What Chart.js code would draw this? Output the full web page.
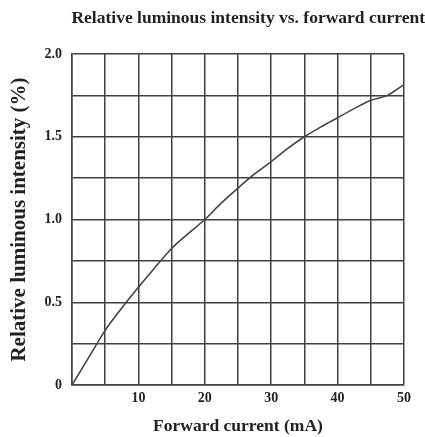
<!DOCTYPE html>
<html>
<head>
<meta charset="utf-8">
<script src="https://cdn.jsdelivr.net/npm/chart.js@4.4.0/dist/chart.umd.min.js"></script>
<style>
  html, body { margin: 0; padding: 0; background: #fff; }
  #wrap { width: 425px; height: 437px; }
</style>
</head>
<body>
<div id="wrap"><canvas id="myChart" width="425" height="437"></canvas></div>
<script>
// Values
const forwardCurrent = [0, 2.5, 5, 7.5, 10, 12.5, 15, 17.5, 20, 22.5, 25, 27.5, 30, 32.5, 35, 37.5, 40, 42.5, 45, 47.5, 50];
const relIntensity = [0, 0.165, 0.33, 0.465, 0.59, 0.71, 0.825, 0.915, 1.0, 1.1, 1.19, 1.275, 1.35, 1.43, 1.5, 1.56, 1.615, 1.67, 1.72, 1.75, 1.815];

const serif = 'Liberation Serif';
const ink = '#404040';

const chartConfig = {
  type: 'line',
  data: {
    datasets: [{
      data: forwardCurrent.map((x, i) => ({ x: x, y: relIntensity[i] })),
      borderColor: '#444',
      borderWidth: 1.6,
      pointRadius: 0,
      cubicInterpolationMode: 'monotone',
      fill: false
    }]
  },
  options: {
    responsive: false,
    animation: false,
    layout: { padding: 0 },
    scales: {
      x: {
        type: 'linear',
        min: 0,
        max: 50,
        ticks: {
          stepSize: 5,
          padding: 5,
          color: '#222',
          font: { family: serif, size: 14, weight: 'bold' },
          callback: v => (v % 10 === 0 && v !== 0) ? v : ''
        },
        grid: { color: ink, lineWidth: 1.5, drawTicks: false },
        border: { color: ink, width: 1.5 },
        title: {
          display: true,
          text: 'Forward current (mA)',
          color: '#222',
          font: { family: serif, size: 17.5, weight: 'bold' },
          padding: { top: 6, bottom: 0 }
        },
        afterFit: s => { s.height = 52; }
      },
      y: {
        min: 0,
        max: 2,
        ticks: {
          stepSize: 0.25,
          padding: 10,
          color: '#222',
          font: { family: serif, size: 14, weight: 'bold' },
          callback: v => v === 0 ? '0' : (v % 0.5 === 0 ? v.toFixed(1) : '')
        },
        grid: { color: ink, lineWidth: 1.5, drawTicks: false },
        border: { color: ink, width: 1.5 },
        title: {
          display: true,
          text: 'Relative luminous intensity (%)',
          color: '#222',
          font: { family: serif, size: 21, weight: 'bold' },
          padding: { top: 7, bottom: 0 }
        },
        afterFit: s => { s.width = 72; }
      },
      // empty right-hand strip so the plot ends where the reference does
      yRight: {
        position: 'right',
        min: 0,
        max: 2,
        grid: { display: false, drawTicks: false },
        border: { display: false },
        ticks: { display: false },
        afterFit: s => { s.width = 21; }
      }
    },
    plugins: {
      legend: { display: false },
      tooltip: { enabled: false },
      title: {
        display: true,
        text: 'Relative luminous intensity vs. forward current',
        color: '#222',
        align: 'end',
        font: { family: serif, size: 17.5, weight: 'bold' },
        padding: { top: 8, bottom: 25 }
      }
    }
  }
};

const myChart = new Chart(document.getElementById('myChart'), chartConfig);
</script>
</body>
</html>
